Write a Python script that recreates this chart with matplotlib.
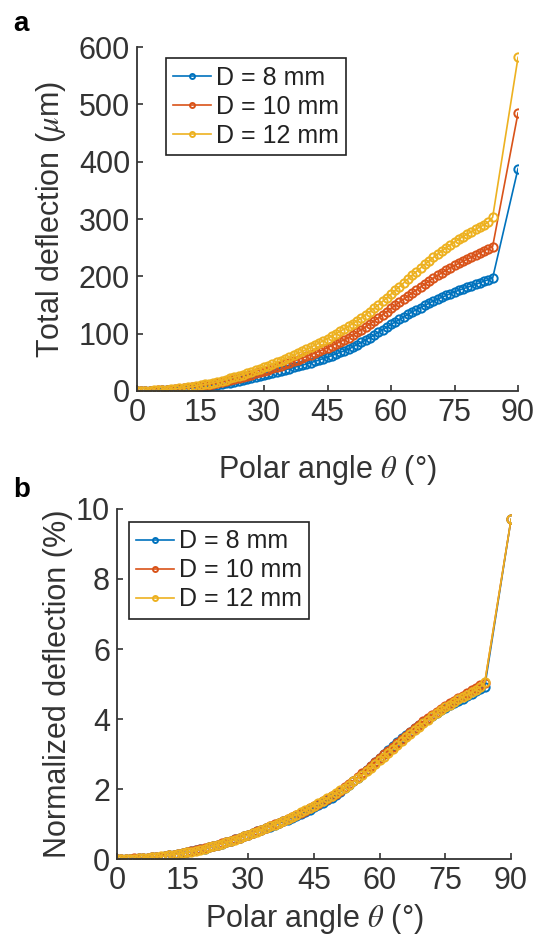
import numpy as np
import matplotlib.pyplot as plt

# Polar angle (deg): dense sampling 0..84, then the edge point at 90
theta = list(range(0, 85)) + [90]

# Total deflection (um)
defl_8 = [0, 0.1, 0.2, 0.4, 0.6, 0.8, 1.1, 1.5, 1.9, 2.3, 2.8,
          3.5, 4.2, 5, 5.9, 6.8, 7.8, 8.8, 9.8, 10.9, 12,
          13.3, 14.7, 16, 17.5, 19, 20.7, 22.4, 24.2, 26.1, 28,
          29.8, 31.6, 33.4, 35.2, 37, 39, 41, 43, 45, 47,
          49.3, 51.6, 54, 56.5, 59, 61.8, 64.6, 67.4, 70.2, 73,
          77, 81, 85, 89, 93, 97.6, 102.2, 106.8, 111.4, 116,
          120.4, 124.8, 129.2, 133.6, 138, 141.8, 145.6, 149.4, 153.2, 157,
          160.2, 163.4, 166.6, 169.8, 173, 175.6, 178.2, 180.8, 183.4, 186,
          188.8, 191.6, 194.4, 197,
          388]
defl_10 = [0, 0.1, 0.3, 0.5, 0.8, 1.1, 1.5, 2, 2.5, 3, 3.6,
           4.4, 5.3, 6.3, 7.4, 8.5, 9.7, 11, 12.4, 13.8, 15.3,
           16.9, 18.6, 20.4, 22.3, 24.3, 26.4, 28.5, 30.6, 32.8, 35,
           37.3, 39.6, 41.9, 44.3, 46.8, 49.4, 52, 54.7, 57.4, 60.2,
           63.1, 66.1, 69.2, 72.4, 75.6, 79, 82.4, 85.9, 89.5, 93.2,
           97.8, 102.4, 107.1, 111.9, 117, 122.3, 127.6, 133, 138.5, 144,
           149.4, 154.8, 160.2, 165.6, 171, 176.2, 181.4, 186.6, 191.8, 197,
           201.6, 206, 210.4, 214.8, 219, 222.6, 226.2, 229.8, 233.4, 237,
           240.8, 244.6, 248.4, 252,
           485]
defl_12 = [0, 0.1, 0.3, 0.6, 0.9, 1.3, 1.8, 2.4, 3, 3.7, 4.5,
           5.4, 6.4, 7.5, 8.7, 10, 11.4, 12.9, 14.5, 16.2, 18,
           19.9, 21.9, 24, 26.2, 28.5, 30.9, 33.4, 36, 38.7, 41.5,
           44.2, 47, 49.9, 52.9, 56, 59.2, 62.5, 65.9, 68.9, 72.5,
           76.1, 79.8, 83.6, 87.5, 91.5, 95.6, 99.8, 104.1, 108.5, 113,
           117.7, 122.6, 127.7, 133, 138.5, 144.2, 150.1, 156.2, 162.5, 169,
           175.6, 182.2, 188.8, 195.4, 202, 208.4, 214.7, 220.9, 227, 233,
           238.8, 244.4, 249.8, 255, 260, 264.8, 269.4, 273.8, 278, 282,
           286, 290, 295, 303,
           582]

diameters = [8, 10, 12]  # mm
labels = ["D = 8 mm", "D = 10 mm", "D = 12 mm"]
colors = ["#0072BD", "#D95319", "#EDB120"]
series = [defl_8, defl_10, defl_12]

plt.rcParams["font.family"] = ["Liberation Sans", "DejaVu Sans"]
plt.rcParams["mathtext.fontset"] = "stix"
plt.rcParams["font.size"] = 22

ink = "#333333"

fig = plt.figure(figsize=(5.34, 9.41), dpi=100)
ax_a = fig.add_axes([0.2566, 0.5845, 0.7135, 0.3655])
ax_b = fig.add_axes([0.219, 0.0871, 0.738, 0.372])


def style(ax, xpad):
    for s in ["top", "right"]:
        ax.spines[s].set_visible(False)
    for s in ["left", "bottom"]:
        ax.spines[s].set_color(ink)
        ax.spines[s].set_linewidth(1.3)
    ax.tick_params(direction="in", length=4, width=1.2, colors=ink,
                   labelsize=22, pad=5)
    ax.set_xlim(0, 90)
    ax.set_xticks(np.arange(0, 91, 15))
    ax.set_xlabel(r"Polar angle $\theta$ (°)", color=ink, labelpad=xpad)


def add_legend(ax, anchor):
    leg = ax.legend(loc="upper left", bbox_to_anchor=anchor,
                    borderaxespad=0, fancybox=False, edgecolor="#222222",
                    framealpha=1, fontsize=18, handlelength=1.5,
                    handletextpad=0.2, labelspacing=0.2, borderpad=0.3,
                    markerscale=0.6)
    leg.get_frame().set_linewidth(1.2)
    for t in leg.get_texts():
        t.set_color("#222222")


# Panel a: total deflection
for d, lab, c, y in zip(diameters, labels, colors, series):
    ax_a.plot(theta, y, "-o", color=c, ms=6, mfc="none", mew=1.4, lw=1.2,
              label=lab)
style(ax_a, 18)
ax_a.set_ylim(0, 600)
ax_a.set_yticks(np.arange(0, 601, 100))
ax_a.set_ylabel(r"Total deflection ($\mu$m)", color=ink, labelpad=8)
add_legend(ax_a, (0.076, 0.968))

# Panel b: deflection normalised by the radius (D/2), in percent
for d, lab, c, y in zip(diameters, labels, colors, series):
    norm = np.array(y) / (d / 2 * 1000) * 100
    ax_b.plot(theta, norm, "-o", color=c, ms=6, mfc="none", mew=1.4,
              lw=1.2, label=lab)
style(ax_b, 4)
ax_b.set_ylim(0, 10)
ax_b.set_yticks(np.arange(0, 11, 2))
ax_b.set_ylabel("Normalized deflection (%)", color=ink, labelpad=2)
add_legend(ax_b, (0.03, 0.963))

fig.text(0.024, 0.974, "a", fontsize=20, fontweight="bold", va="center")
fig.text(0.024, 0.479, "b", fontsize=20, fontweight="bold", va="center")

fig.savefig("out.png", dpi=100)
